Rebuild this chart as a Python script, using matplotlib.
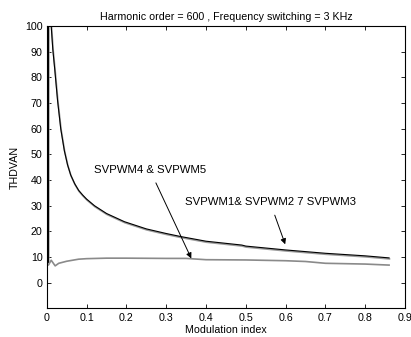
import matplotlib
matplotlib.use("Agg")
import matplotlib.pyplot as plt
import numpy as np

plt.rcParams['font.family'] = ['Liberation Sans', 'DejaVu Sans']
plt.rcParams['font.size'] = 7.7

# upper curves (SVPWM1, SVPWM2, SVPWM3) - black and gray nearly on top of each other
m_up = [0.004, 0.0045, 0.011, 0.015, 0.02, 0.027, 0.035, 0.044, 0.052, 0.06, 0.07,
        0.08, 0.09, 0.1, 0.12, 0.15, 0.195, 0.25, 0.3, 0.337, 0.4, 0.49, 0.5,
        0.6, 0.7, 0.8, 0.86]
thd_up = [8.0, 300.0, 100.0, 91.0, 83.0, 71.0, 60.0, 51.5, 46.0, 42.0, 38.6,
          36.0, 34.2, 32.6, 30.0, 27.0, 23.8, 21.0, 19.2, 18.0, 16.2, 14.7, 14.3,
          12.8, 11.5, 10.5, 9.7]

# lower curves (SVPWM4, SVPWM5)
m_low = [0.0, 0.004, 0.011, 0.021, 0.03, 0.05, 0.08, 0.1, 0.15, 0.2, 0.3, 0.35,
         0.4, 0.5, 0.6, 0.65, 0.7, 0.8, 0.86]
thd_low = [21.0, 6.9, 8.8, 6.6, 7.6, 8.4, 9.2, 9.4, 9.6, 9.6, 9.5, 9.5,
           9.0, 8.9, 8.6, 8.3, 7.6, 7.3, 6.9]

fig = plt.figure(figsize=(4.11, 3.37), dpi=100)
ax = fig.add_axes([0.1139, 0.0846, 0.8715, 0.8382])

ax.plot(m_low, thd_low, color='#8a8a8a', lw=1.2)
ax.plot(np.array(m_up) + 0.001, np.array(thd_up) - 0.4, color='#9a9a9a', lw=1.2)
ax.plot(m_up, thd_up, color='black', lw=0.8)

ax.set_xlim(0, 0.9)
ax.set_ylim(-10, 100)
ax.set_xticks(np.arange(0, 0.91, 0.1))
ax.set_xticklabels(['0', '0.1', '0.2', '0.3', '0.4', '0.5', '0.6', '0.7', '0.8', '0.9'])
ax.set_yticks(np.arange(0, 101, 10))
ax.tick_params(direction='in', top=True, right=True, length=3, width=0.6, pad=3)
for s in ax.spines.values():
    s.set_linewidth(0.8)

ax.set_title('Harmonic order = 600 , Frequency switching = 3 KHz', fontsize=7.7, pad=4)
ax.set_xlabel('Modulation index', fontsize=7.7, labelpad=2)
ax.set_ylabel('THDVAN', fontsize=7.7, labelpad=4)

ax.annotate('SVPWM4 & SVPWM5', xy=(0.363, 9.5), xytext=(0.259, 43.9),
            ha='center', va='center', fontsize=8.2,
            arrowprops=dict(arrowstyle='-|>', color='black', lw=0.7,
                            mutation_scale=8, shrinkA=4, shrinkB=0))
ax.annotate('SVPWM1& SVPWM2 7 SVPWM3', xy=(0.599, 15.0), xytext=(0.561, 31.4),
            ha='center', va='center', fontsize=8.2,
            arrowprops=dict(arrowstyle='-|>', color='black', lw=0.7,
                            mutation_scale=8, shrinkA=4, shrinkB=0))

fig.savefig('out.png', dpi=100)
